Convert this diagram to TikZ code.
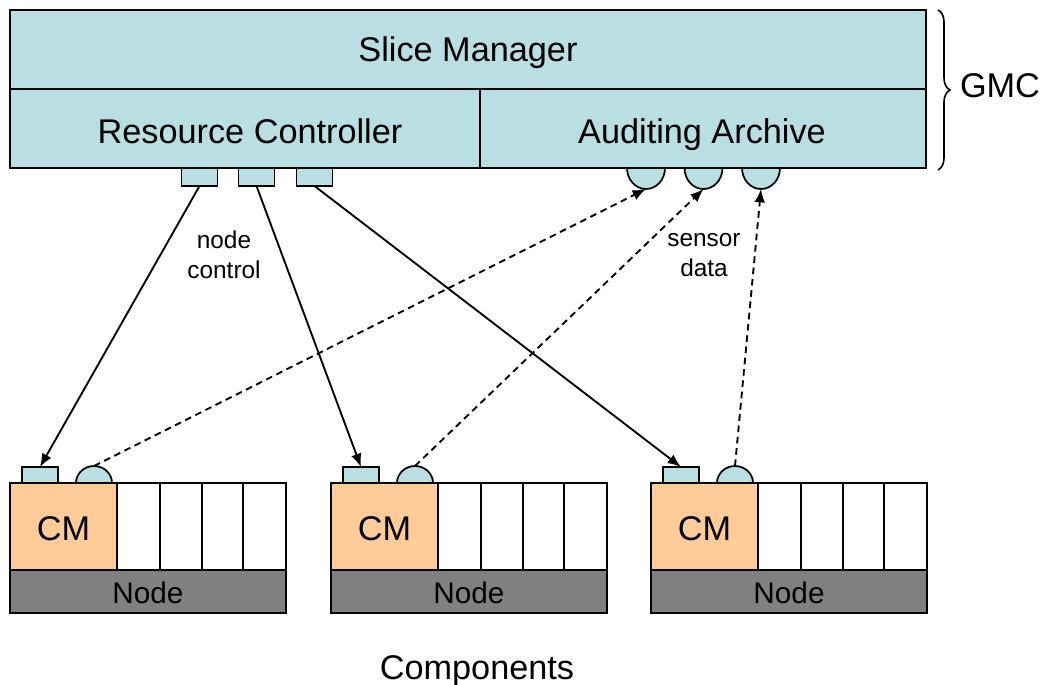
\documentclass[tikz,border=0pt]{standalone}
\usepackage{fontspec}
\setmainfont{Liberation Sans}
\usetikzlibrary{arrows.meta,decorations.pathreplacing}
\definecolor{tealfill}{RGB}{185,223,226}
\definecolor{cmorange}{RGB}{255,204,153}
\definecolor{nodegray}{RGB}{128,128,128}
\begin{document}
\begin{tikzpicture}[x=0.75pt,y=-0.75pt,
  box/.style={draw=black,line width=1.3pt},
  port/.style={box,fill=tealfill,minimum width=27pt,inner sep=0pt,outer sep=0pt},
  bigtext/.style={font=\fontsize{25.7}{30}\selectfont,inner sep=0pt,anchor=base},
  nodetext/.style={font=\fontsize{22.3}{26}\selectfont,inner sep=0pt,anchor=base},
  labeltext/.style={font=\fontsize{18.3}{22.5}\selectfont,align=center,inner sep=0pt},
  ctrl/.style={line width=1.4pt,-{Latex[length=10pt,width=8pt]}},
  datalink/.style={line width=1.4pt,dash pattern=on 5pt off 3.5pt,-{Latex[length=10pt,width=8pt]}}]
\useasboundingbox (0,0) rectangle (1042,685);
% GMC box
\draw[box,fill=tealfill] (10,10) rectangle (926,168);
\draw[box] (10,89) -- (926,89);
\draw[box] (480,89) -- (480,168);
\node[bigtext] (sm) at (468,62) {Slice Manager};
\node[bigtext] (rc) at (250,143) {Resource Controller};
\node[bigtext] (aa) at (702,143) {Auditing Archive};
% brace
\draw[line width=1.2pt,decorate,decoration={brace,amplitude=9pt}] (938,10) -- (938,170);
\node[bigtext] (gmc) at (1000,98) {GMC};
% top ports
\foreach \i/\cx in {1/199.5,2/256.5,3/314.5}{
  \node[port,minimum height=13.5pt] (rc\i) at (\cx,177) {};
}
\foreach \i/\cx in {1/646,2/703.5,3/761}{
  \draw[box,fill=tealfill] (\cx-19,168) arc[start angle=180,end angle=0,x radius=19,y radius=21] -- cycle;
  \coordinate (ap\i) at (\cx,189);
}
% components
\foreach \k/\ox in {1/0,2/321,3/641}{
  \begin{scope}[shift={(\ox,0)}]
    \draw[box,fill=cmorange] (10,483) rectangle (117,570);
    \draw[box] (117,483) rectangle (160,570);
    \draw[box] (160,483) rectangle (202,570);
    \draw[box] (202,483) rectangle (243,570);
    \draw[box] (243,483) rectangle (286,570);
    \draw[box,fill=nodegray] (10,570) rectangle (286,613);
    \node[bigtext] (cm\k) at (63.5,540) {CM};
    \node[nodetext] (nd\k) at (148,603) {Node};
    \node[port,minimum height=12pt] (cp\k) at (40,475) {};
    \draw[box,fill=tealfill] (76,483) arc[start angle=180,end angle=360,x radius=18,y radius=17] -- cycle;
    \coordinate (cs\k) at (94,466);
  \end{scope}
}
% connectors
\draw[ctrl] (rc1.south) -- (cp1.north);
\draw[ctrl] (rc2.south) -- (cp2.north);
\draw[ctrl] (rc3.south) -- (cp3.north);
\draw[datalink] (cs1) -- (ap1);
\draw[datalink] (cs2) -- (ap2);
\draw[datalink] (cs3) -- (ap3);
% labels
\node[labeltext] (nc) at (224,255) {node\\control};
\node[labeltext] (sd) at (704,255) {sensor\\data};
\node[bigtext] (comp) at (477,679) {Components};
\end{tikzpicture}
\end{document}
